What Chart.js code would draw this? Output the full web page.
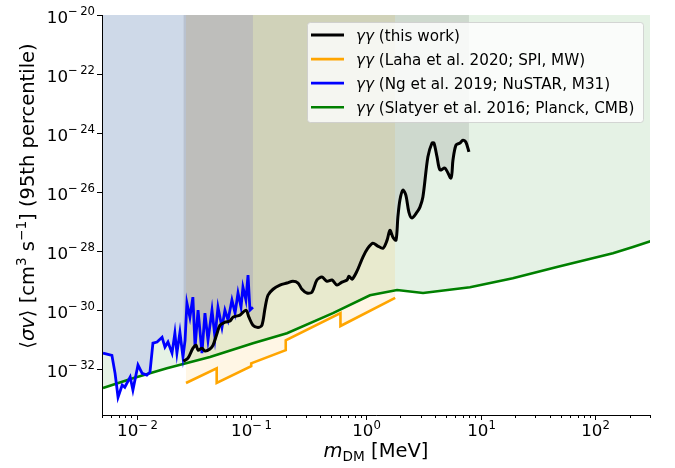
<!DOCTYPE html>
<html>
<head>
<meta charset="utf-8">
<script src="https://cdn.jsdelivr.net/npm/chart.js@4.4.0/dist/chart.umd.min.js"></script>
<style>
    html, body { margin: 0; padding: 0; background: #ffffff; }
    #grafico { display: block; }
</style>
</head>
<body>
<canvas id="grafico" width="675" height="468"></canvas>
<script>
// Datos (masa en MeV, <σv> en cm^3 s^-1).
const thisWorkMass = [0.0256, 0.0281, 0.031, 0.033, 0.0344, 0.0372, 0.0395, 0.0437, 0.0465, 0.0504, 0.0535, 0.059, 0.0653, 0.0693, 0.0798, 0.09, 0.0955, 0.1035, 0.1145, 0.124, 0.132, 0.14, 0.155, 0.178, 0.205, 0.231, 0.256, 0.277, 0.306, 0.339, 0.374, 0.414, 0.458, 0.506, 0.56, 0.618, 0.684, 0.711, 0.757, 0.836, 0.942, 1.04, 1.15, 1.27, 1.41, 1.53, 1.62, 1.72, 1.83, 1.9, 1.98, 2.1, 2.23, 2.37, 2.52, 2.79, 2.96, 3.14, 3.47, 3.77, 3.92, 4.17, 4.43, 4.89, 5.52, 5.74, 6.1, 6.61, 7.02, 7.45, 7.92];
const thisWorkSigma = [1.86e-32, 2.35e-32, 5.1e-32, 6.5e-32, 4.4e-32, 5.1e-32, 4.1e-32, 4.8e-32, 6.5e-32, 1.66e-31, 3.1e-31, 3.9e-31, 4.3e-31, 5.75e-31, 6.8e-31, 1.0e-30, 5.75e-31, 3.1e-31, 2.6e-31, 3.1e-31, 1.17e-30, 3.2e-30, 5.1e-30, 7.1e-30, 8.3e-30, 9.5e-30, 8.3e-30, 5.1e-30, 3.8e-30, 4.1e-30, 1.05e-29, 1.32e-29, 9.5e-30, 1.05e-29, 7.1e-30, 8.9e-30, 1.05e-29, 1.41e-29, 1.12e-29, 2.1e-29, 6.3e-29, 1.26e-28, 1.86e-28, 1.48e-28, 1.26e-28, 2.35e-28, 5.1e-28, 2.95e-28, 2.35e-28, 1.41e-27, 5.4e-27, 1.17e-26, 7.9e-27, 2.1e-27, 1.32e-27, 2.1e-27, 3.1e-27, 6.8e-27, 1.55e-25, 4.6e-25, 4.6e-25, 1.55e-25, 5.6e-26, 6.5e-26, 3.0e-26, 1.2e-25, 3.9e-25, 4.6e-25, 5.75e-25, 4.9e-25, 2.3e-25];

const lahaMass = [0.027, 0.05, 0.05, 0.1, 0.1, 0.2, 0.2, 0.6, 0.6, 1.8];
const lahaSigma = [3.4e-33, 1.07e-32, 3.4e-33, 1.26e-32, 1.58e-32, 4.4e-32, 9.5e-32, 7.9e-31, 2.9e-31, 2.6e-30];

const ngMass = [0.0051, 0.0061, 0.0065, 0.0069, 0.0075, 0.0079, 0.0088, 0.0093, 0.0103, 0.0112, 0.0123, 0.0131, 0.0139, 0.0151, 0.0167, 0.0177, 0.0188, 0.0204, 0.0216, 0.0225, 0.0239, 0.0254, 0.0265, 0.0275, 0.0292, 0.031, 0.0324, 0.0344, 0.0372, 0.0395, 0.042, 0.0455, 0.0483, 0.0513, 0.0556, 0.059, 0.0628, 0.0679, 0.0723, 0.0767, 0.0815, 0.0847, 0.0899, 0.0938, 0.0975, 0.1035];
const ngSigma = [3.5e-32, 2.95e-32, 7.2e-33, 1.12e-33, 2.9e-33, 2.45e-33, 5.4e-33, 1.95e-33, 1.38e-32, 7.2e-33, 6.3e-33, 7.9e-33, 7.6e-32, 8.3e-32, 1.2e-31, 5.6e-32, 8.3e-32, 3.5e-32, 1.66e-31, 3.5e-32, 1.78e-31, 2.6e-32, 9.5e-32, 1.74e-30, 5.75e-31, 2.75e-30, 5.6e-32, 1.0e-30, 3.5e-32, 7.9e-31, 9.5e-32, 1.0e-30, 1.2e-31, 1.26e-30, 2.6e-31, 1.0e-30, 4.6e-31, 2.2e-30, 7.9e-31, 3.8e-30, 1.26e-30, 6.0e-30, 2.2e-30, 1.55e-29, 1.0e-30, 1.26e-30];

const slatyerMass = [0.0051, 0.0093, 0.0184, 0.0437, 0.1036, 0.205, 0.516, 1.085, 1.87, 3.15, 8.08, 19.1, 46.3, 142.5, 213, 305];
const slatyerSigma = [2.3e-33, 4.9e-33, 1.07e-32, 2.6e-32, 7.6e-32, 1.66e-31, 7.9e-31, 3.2e-30, 4.8e-30, 3.8e-30, 6.0e-30, 1.2e-29, 2.9e-29, 8.5e-29, 1.38e-28, 2.2e-28];

// Etiquetas de la leyenda y de los ejes.
const legendLabels = ['(this work)', '(Laha et al. 2020; SPI, MW)', '(Ng et al. 2019; NuSTAR, M31)', '(Slatyer et al. 2016; Planck, CMB)'];
const xTickValues = [0.01, 0.1, 1, 10, 100];
const xTickExponents = ['\u22122', '\u22121', '0', '1', '2'];
const yTickValues = [1e-32, 1e-30, 1e-28, 1e-26, 1e-24, 1e-22, 1e-20];
const yTickExponents = ['\u221232', '\u221230', '\u221228', '\u221226', '\u221224', '\u221222', '\u221220'];

const X_MIN = 0.005, X_MAX = 300;
const Y_MIN = 2.8e-34, Y_MAX = 1e-20;
const FAMILIA = '"DejaVu Sans", sans-serif';

// Une dos arreglos en puntos {x, y} para Chart.js.
const toPoints = (xs, ys) => xs.map((x, i) => ({ x: x, y: ys[i] }));

// Devuelve la fuente según el tipo de fragmento (normal, itálica, superíndice, subíndice).
const fuente = (kind, size) => {
    const s = (kind === 'sup' || kind === 'sub') ? size * 0.7 : size;
    return (kind === 'i' ? 'italic ' : '') + s.toFixed(2) + 'px ' + FAMILIA;
};

// Dibuja un texto compuesto por fragmentos con distintos estilos.
const drawRich = (ctx, parts, x, y, size, align) => {
    let total = 0;
    parts.forEach(([t, k]) => { ctx.font = fuente(k, size); total += ctx.measureText(t).width; });
    let cx = align === 'center' ? x - total / 2 : (align === 'right' ? x - total : x);
    ctx.textAlign = 'left';
    ctx.textBaseline = 'alphabetic';
    parts.forEach(([t, k]) => {
        ctx.font = fuente(k, size);
        const dy = k === 'sup' ? -size * 0.42 : (k === 'sub' ? size * 0.22 : 0);
        ctx.fillText(t, cx, y + dy);
        cx += ctx.measureText(t).width;
    });
    return total;
};

const exponentParts = (exp) => [['10', 'n'], [exp.replace('\u2212', '\u2212\u2009'), 'sup']];

// Plugin que dibuja ejes, marcas, etiquetas y leyenda al estilo matplotlib.
const ejesPlugin = {
    id: 'ejes',
    afterDraw(chart) {
        const { ctx, chartArea: area, scales } = chart;
        const xs = scales.x, ys = scales.y;
        ctx.save();
        ctx.strokeStyle = '#000000';
        ctx.fillStyle = '#000000';
        ctx.lineWidth = 1;

        // Ejes izquierdo e inferior.
        ctx.beginPath();
        ctx.moveTo(area.left + 0.5, area.top);
        ctx.lineTo(area.left + 0.5, area.bottom + 0.5);
        ctx.lineTo(area.right, area.bottom + 0.5);
        ctx.stroke();

        // Marcas menores del eje X.
        ctx.beginPath();
        for (let k = -3; k <= 2; k++) {
            for (let m = 2; m <= 9; m++) {
                const v = m * Math.pow(10, k);
                if (v < X_MIN || v > X_MAX) continue;
                const px = Math.round(xs.getPixelForValue(v)) + 0.5;
                ctx.moveTo(px, area.bottom);
                ctx.lineTo(px, area.bottom + 3);
            }
        }
        ctx.stroke();

        // Marcas mayores y etiquetas del eje X.
        xTickValues.forEach((v, i) => {
            const px = Math.round(xs.getPixelForValue(v)) + 0.5;
            ctx.beginPath();
            ctx.moveTo(px, area.bottom);
            ctx.lineTo(px, area.bottom + 5);
            ctx.stroke();
            drawRich(ctx, exponentParts(xTickExponents[i]), px, area.bottom + 21, 16.7, 'center');
        });

        // Marcas y etiquetas del eje Y.
        yTickValues.forEach((v, i) => {
            const py = Math.round(ys.getPixelForValue(v)) + 0.5;
            ctx.beginPath();
            ctx.moveTo(area.left - 5, py);
            ctx.lineTo(area.left, py);
            ctx.stroke();
            drawRich(ctx, exponentParts(yTickExponents[i]), area.left - 7, py + 7, 16.7, 'right');
        });

        // Título del eje X.
        drawRich(ctx, [['m', 'i'], ['DM', 'sub'], [' [MeV]', 'n']], (area.left + area.right) / 2, 457, 19.5, 'center');

        // Título del eje Y (rotado).
        ctx.save();
        ctx.translate(34, 196);
        ctx.rotate(-Math.PI / 2);
        drawRich(ctx, [['\u27E8', 'n'], ['\u03C3v', 'i'], ['\u27E9 [cm', 'n'], ['3', 'sup'], [' s', 'n'], ['\u22121', 'sup'], ['] (95th percentile)', 'n']], 0, 0, 19.5, 'center');
        ctx.restore();

        // Leyenda dentro del área del gráfico.
        const box = { left: 307, top: 22, right: 643, bottom: 122 };
        ctx.beginPath();
        ctx.roundRect(box.left + 0.5, box.top + 0.5, box.right - box.left, box.bottom - box.top, 3);
        ctx.fillStyle = 'rgba(255, 255, 255, 0.8)';
        ctx.fill();
        ctx.strokeStyle = 'rgba(204, 204, 204, 0.8)';
        ctx.stroke();
        chart.data.datasets.forEach((ds, i) => {
            const yy = 35 + i * 24.1;
            ctx.strokeStyle = ds.borderColor;
            ctx.lineWidth = ds.borderWidth;
            ctx.beginPath();
            ctx.moveTo(311, yy);
            ctx.lineTo(344, yy);
            ctx.stroke();
            ctx.fillStyle = '#000000';
            drawRich(ctx, [['\u03B3\u03B3', 'i'], [' ' + legendLabels[i], 'n']], 356, yy + 5.5, 15.2, 'left');
        });
        ctx.restore();
    }
};

new Chart(document.getElementById('grafico'), {
    type: 'line',
    data: {
        datasets: [
            { data: toPoints(thisWorkMass, thisWorkSigma), borderColor: '#000000', backgroundColor: 'rgba(0, 0, 0, 0.1)', borderWidth: 3, fill: 'end', tension: 0.3 },
            { data: toPoints(lahaMass, lahaSigma), borderColor: '#FFA500', backgroundColor: 'rgba(255, 165, 0, 0.1)', borderWidth: 2.6, fill: 'end', tension: 0 },
            { data: toPoints(ngMass, ngSigma), borderColor: '#0000FF', backgroundColor: 'rgba(0, 0, 255, 0.1)', borderWidth: 2.8, fill: 'end', tension: 0 },
            { data: toPoints(slatyerMass, slatyerSigma), borderColor: '#008000', backgroundColor: 'rgba(0, 128, 0, 0.1)', borderWidth: 2.6, fill: 'end', tension: 0 }
        ]
    },
    options: {
        responsive: false,
        animation: false,
        devicePixelRatio: 1,
        layout: { padding: { left: 102, right: 25, top: 15, bottom: 53 } },
        elements: { point: { radius: 0 } },
        scales: {
            x: { type: 'logarithmic', min: X_MIN, max: X_MAX, display: false },
            y: { type: 'logarithmic', min: Y_MIN, max: Y_MAX, display: false }
        },
        plugins: {
            legend: { display: false },
            tooltip: { enabled: false },
            filler: { drawTime: 'beforeDatasetsDraw' }
        }
    },
    plugins: [ejesPlugin]
});
</script>
</body>
</html>
